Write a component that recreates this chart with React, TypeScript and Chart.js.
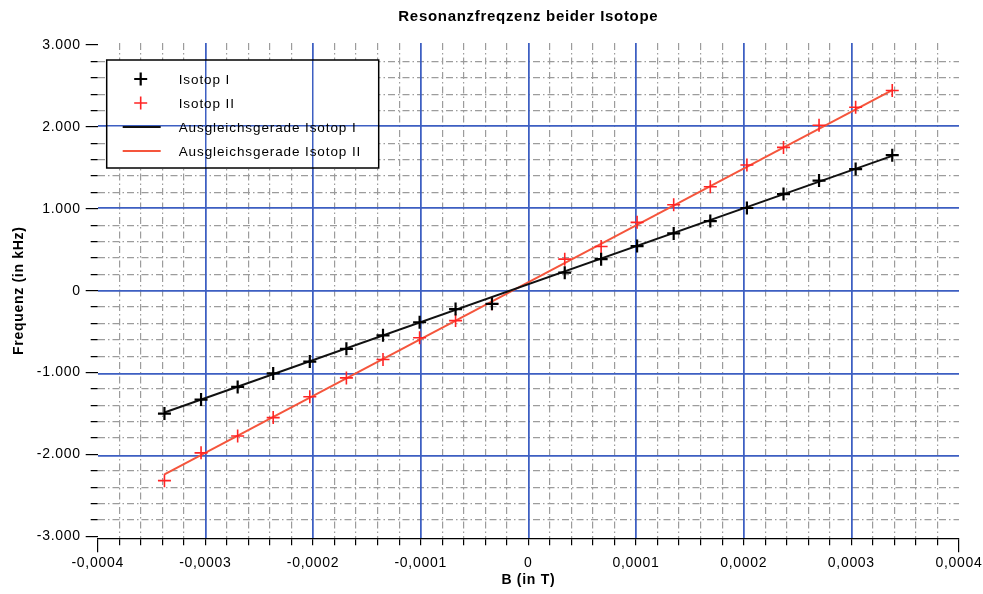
import React, { useEffect, useRef } from 'react';
import { Chart, registerables } from 'chart.js';

Chart.register(...registerables);

// Magnetic field values (T) of the measurements
const B_VALUES = [
  -0.000338, -0.000304, -0.00027, -0.000237, -0.000203, -0.000169, -0.000135, -0.000101, -0.0000676, -0.0000338,
  0.0000338, 0.0000676, 0.000101, 0.000135, 0.000169, 0.000203, 0.000237, 0.00027, 0.000304, 0.000338,
];
// Resonance frequencies (kHz)
const ISOTOP_I = [
  -1500, -1330, -1175, -1010, -865, -710, -545, -385, -225, -160,
  220, 385, 545, 700, 850, 1010, 1180, 1345, 1485, 1655,
];
const ISOTOP_II = [
  -2320, -1980, -1775, -1550, -1295, -1065, -840, -575, -365, -160,
  385, 540, 835, 1050, 1270, 1535, 1750, 2020, 2240, 2445,
];
// Fit lines (end points)
const FIT_B = [-0.000338, 0.000338];
const FIT_I = [-1488, 1646];
const FIT_II = [-2244, 2450];

const LABELS = ['Isotop I', 'Isotop II', 'Ausgleichsgerade Isotop I', 'Ausgleichsgerade Isotop II'];
const TITLE = 'Resonanzfreqzenz beider Isotope';
const X_TITLE = 'B (in T)';
const Y_TITLE = 'Frequenz (in kHz)';

const X_MIN = -0.0004, X_MAX = 0.0004, X_MAJOR = 0.0001, X_MINOR = 0.00002;
const Y_MIN = -3025, Y_MAX = 3025, Y_MAJOR = 1000, Y_MINOR = 200;

const FONT = '"Liberation Sans", Arial, Helvetica, sans-serif';
const SPACING = '0.7px';
const BLUE = '#3d5fc2';
const GRAY = '#9c9c9c';
const NONE = 'rgba(0,0,0,0)';
const DASH = [7, 3, 1.5, 3];

const isMajorX = (v: number) => Math.abs(v / X_MAJOR - Math.round(v / X_MAJOR)) < 1e-6;
const isEndX = (v: number) => Math.abs(Math.abs(v) - X_MAX) < 1e-9;
const isMajorY = (v: number) => Math.abs(v / Y_MAJOR - Math.round(v / Y_MAJOR)) < 1e-6;
const isEndY = (v: number) => Math.abs(v) >= 2999;

const fmtX = (v: number) => {
  const k = Math.round(v / X_MAJOR);
  if (k === 0) return '0';
  return (k < 0 ? '-' : '') + '0,000' + Math.abs(k);
};
const fmtY = (v: number) => {
  const k = Math.round(v / 1000);
  if (k === 0) return '0';
  return (k < 0 ? '-' : '') + Math.abs(k) + '.000';
};

const toPoints = (xs: number[], ys: number[]) => xs.map((x, i) => ({ x, y: ys[i] }));

const letterSpacing = {
  id: 'letterSpacing',
  beforeUpdate(chart: any) {
    (chart.ctx as any).letterSpacing = SPACING;
  },
  beforeDraw(chart: any) {
    (chart.ctx as any).letterSpacing = SPACING;
  },
};

const insideLegend = {
  id: 'insideLegend',
  beforeDatasetsDraw(chart: any) {
    const { ctx, chartArea } = chart;
    const x0 = chartArea.left + 9;
    const y0 = chartArea.top + 17;
    const w = 272;
    const h = 108;
    ctx.save();
    ctx.fillStyle = '#ffffff';
    ctx.fillRect(x0, y0, w, h);
    ctx.restore();
    chart.scales.xMajor.drawGrid(chartArea);
    chart.scales.yMajor.drawGrid(chartArea);
    ctx.save();
    ctx.strokeStyle = '#000';
    ctx.lineWidth = 1.5;
    ctx.strokeRect(x0, y0, w, h);
    ctx.font = '13.5px ' + FONT;
    (ctx as any).letterSpacing = '0.9px';
    ctx.textBaseline = 'middle';
    ctx.textAlign = 'left';
    chart.data.datasets.forEach((ds: any, i: number) => {
      const cy = y0 + 19 + i * 24;
      const cx = x0 + 34;
      if (ds.showLine === false) {
        const r = ds.pointRadius;
        ctx.strokeStyle = ds.pointBorderColor;
        ctx.lineWidth = ds.pointBorderWidth;
        ctx.beginPath();
        ctx.moveTo(cx - r, cy);
        ctx.lineTo(cx + r, cy);
        ctx.moveTo(cx, cy - r);
        ctx.lineTo(cx, cy + r);
        ctx.stroke();
      } else {
        ctx.strokeStyle = ds.borderColor;
        ctx.lineWidth = ds.borderWidth;
        ctx.beginPath();
        ctx.moveTo(x0 + 16, cy);
        ctx.lineTo(x0 + 54, cy);
        ctx.stroke();
      }
      ctx.fillStyle = '#000';
      ctx.fillText(ds.label, x0 + 72, cy + 1);
    });
    ctx.restore();
  },
};

export default function App() {
  const ref = useRef<HTMLCanvasElement | null>(null);

  useEffect(() => {
    if (!ref.current) return;
    const tickFont = { family: FONT, size: 14 };
    const titleFont = { family: FONT, size: 14, weight: 'bold' as const };
    const chart = new Chart(ref.current, {
      type: 'scatter',
      data: {
        datasets: [
          {
            label: LABELS[0],
            data: toPoints(B_VALUES, ISOTOP_I),
            showLine: false,
            pointStyle: 'cross',
            pointRadius: 6.5,
            pointBorderWidth: 2.2,
            pointBorderColor: '#000000',
            borderColor: '#000000',
            backgroundColor: '#000000',
          },
          {
            label: LABELS[1],
            data: toPoints(B_VALUES, ISOTOP_II),
            showLine: false,
            pointStyle: 'cross',
            pointRadius: 6.5,
            pointBorderWidth: 1.6,
            pointBorderColor: '#ff2424',
            borderColor: '#ff2424',
            backgroundColor: '#ff2424',
          },
          {
            label: LABELS[2],
            data: toPoints(FIT_B, FIT_I),
            showLine: true,
            pointRadius: 0,
            borderWidth: 2,
            borderColor: '#111111',
            backgroundColor: '#111111',
          },
          {
            label: LABELS[3],
            data: toPoints(FIT_B, FIT_II),
            showLine: true,
            pointRadius: 0,
            borderWidth: 2,
            borderColor: '#f5553c',
            backgroundColor: '#f5553c',
          },
        ],
      },
      options: {
        responsive: false,
        animation: false,
        devicePixelRatio: 1,
        layout: { padding: { left: 7, right: 24, top: 0, bottom: 4 } },
        plugins: {
          legend: { display: false },
          tooltip: { enabled: false },
          title: {
            display: true,
            text: TITLE,
            fullSize: false,
            color: '#000',
            font: { family: FONT, size: 15, weight: 'bold' },
            padding: { top: 8, bottom: 17 },
          },
        },
        scales: {
          x: {
            type: 'linear',
            position: 'bottom',
            weight: 0,
            min: X_MIN,
            max: X_MAX,
            ticks: {
              stepSize: X_MINOR,
              autoSkip: false,
              maxRotation: 0,
              minRotation: 0,
              padding: 0,
              color: '#000',
              font: tickFont,
              callback: (v: any) => (isMajorX(Number(v)) ? fmtX(Number(v)) : ''),
            },
            grid: {
              z: -2,
              color: (c: any) => (isMajorX(c.tick.value) ? NONE : GRAY),
              lineWidth: 1.2,
              drawTicks: true,
              tickLength: 16,
              tickColor: '#000',
              tickWidth: 1.2,
              tickBorderDash: (c: any) => (isEndX(c.tick.value) ? [13, 100] : [6, 100]),
            },
            border: { display: true, color: '#000', width: 1.2, dash: DASH },
            title: {
              display: true,
              text: X_TITLE,
              color: '#000',
              font: titleFont,
              padding: { top: 1, bottom: 1 },
            },
          },
          xMajor: {
            type: 'linear',
            position: 'bottom',
            weight: 1,
            min: X_MIN,
            max: X_MAX,
            ticks: { display: false, stepSize: X_MAJOR },
            grid: {
              z: -1,
              color: (c: any) => (isEndX(c.tick.value) ? NONE : BLUE),
              lineWidth: 1.5,
              drawTicks: false,
            },
            border: { display: false },
          },
          y: {
            type: 'linear',
            position: 'left',
            weight: 0,
            min: Y_MIN,
            max: Y_MAX,
            ticks: {
              stepSize: Y_MINOR,
              includeBounds: false,
              autoSkip: false,
              padding: 5,
              color: '#000',
              font: tickFont,
              callback: (v: any) => (isMajorY(Number(v)) ? fmtY(Number(v)) : ''),
            },
            grid: {
              z: -2,
              color: (c: any) => (isMajorY(c.tick.value) ? NONE : GRAY),
              lineWidth: 1.2,
              drawTicks: true,
              tickLength: 12,
              tickColor: '#000',
              tickWidth: 1.2,
              tickBorderDash: (c: any) => (isMajorY(c.tick.value) ? [] : [0, 5, 7, 100]),
            },
            border: { display: false, dash: DASH },
            title: {
              display: true,
              text: Y_TITLE,
              color: '#000',
              font: titleFont,
              padding: { top: 4, bottom: 4 },
            },
          },
          yMajor: {
            type: 'linear',
            position: 'left',
            weight: 1,
            min: Y_MIN,
            max: Y_MAX,
            ticks: { display: false, stepSize: Y_MAJOR, includeBounds: false },
            grid: {
              z: -1,
              color: (c: any) => (isEndY(c.tick.value) ? NONE : BLUE),
              lineWidth: 1.5,
              drawTicks: false,
            },
            border: { display: false },
          },
        },
      } as any,
      plugins: [letterSpacing, insideLegend],
    });
    return () => chart.destroy();
  }, []);

  return (
    <div style={{ position: 'absolute', left: 0, top: 0, width: 983, height: 594, background: '#fff' }}>
      <canvas ref={ref} width={983} height={594} style={{ display: 'block' }} />
    </div>
  );
}
